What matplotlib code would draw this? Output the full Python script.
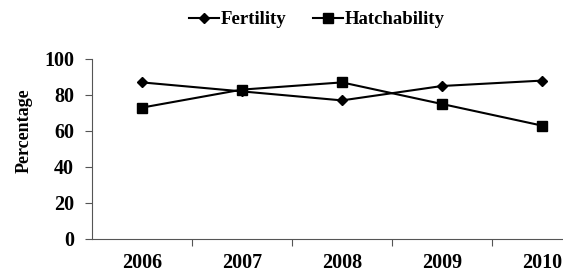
import matplotlib.pyplot as plt

years = ["2006", "2007", "2008", "2009", "2010"]
fertility = [87, 82, 77, 85, 88]
hatchability = [73, 83, 87, 75, 63]
y_ticks = [0, 20, 40, 60, 80, 100]

plt.rcParams['font.family'] = ['Liberation Serif', 'DejaVu Serif']
plt.rcParams['font.weight'] = 'bold'

fig = plt.figure(figsize=(5.63, 2.77), dpi=100)
# axes: left spine at x=92px, y=0 at 239px, y=100 at 59px
ax = fig.add_axes([92 / 563, (277 - 239) / 277, 1 - 92 / 563, 180 / 277])

x = list(range(len(years)))
ax.plot(x, fertility, color='black', lw=1.5, marker='D', ms=5.5, label='Fertility')
ax.plot(x, hatchability, color='black', lw=1.5, marker='s', ms=7.5, label='Hatchability')

ax.set_yticks(y_ticks)
ax.set_yticklabels([str(v) for v in y_ticks], fontsize=14.5, fontweight='bold')
# tick marks sit between categories, labels at category centres
ax.set_xticks([i + 0.5 for i in range(len(years))])
ax.set_xticklabels([])
ax.set_xticks(x, minor=True)
ax.set_xticklabels(years, minor=True, fontsize=14.5, fontweight='bold')
# limits after set_xticks, otherwise the ticks widen the view
ax.set_xlim(-0.5, 4.21)
ax.set_ylim(0, 100)
ax.tick_params(axis='x', which='minor', length=0, pad=10)
ax.tick_params(axis='x', which='major', length=5, color='#555555')
ax.tick_params(axis='y', length=5, color='#555555', pad=8)
ax.spines['top'].set_visible(False)
ax.spines['right'].set_visible(False)
ax.spines['left'].set_color('#555555')
ax.spines['bottom'].set_color('#555555')
ax.set_ylabel('Percentage', fontsize=13, fontweight='bold')
ax.yaxis.set_label_coords(-0.125, 0.6)

fig.legend(loc='upper center', bbox_to_anchor=(0.563, 1.02), ncol=2, frameon=False,
           prop={'size': 13.5, 'weight': 'bold'}, handlelength=1.6,
           handletextpad=0.1, columnspacing=1.4)

fig.savefig('out.png', dpi=100)
